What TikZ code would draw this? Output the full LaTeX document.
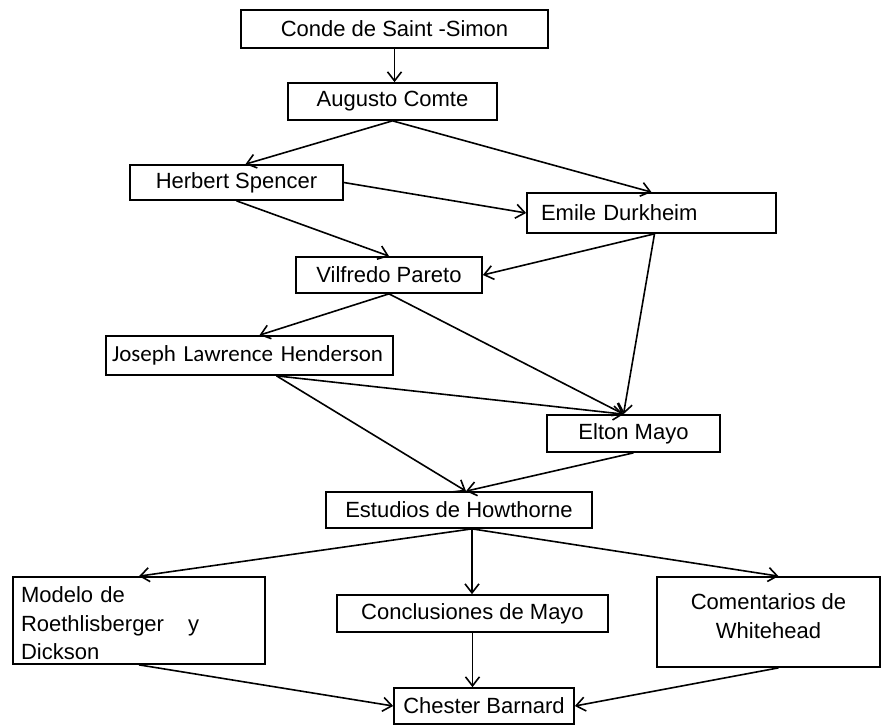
\documentclass[tikz,border=0pt]{standalone}
\usepackage{fontspec}
\setmainfont{Liberation Sans}
\newfontfamily\calib{Carlito}
\usetikzlibrary{arrows.meta}
\begin{document}
\begin{tikzpicture}[x=1pt,y=-1pt,
  box/.style={draw,line width=1.7pt,rectangle,inner sep=0pt,
    font=\fontsize{22}{28.5}\selectfont,align=center},
  link/.style={line width=1.6pt,-{Straight Barb[length=9pt,width=14pt,line width=1.6pt]}}]
\useasboundingbox (0,0) rectangle (890,725);

% boxes
\node[box,minimum width=307pt,minimum height=38pt] (sim) at (394.5,29) {Conde de Saint -Simon};
\node[box,minimum width=209pt,minimum height=37pt] (com) at (392.5,101.5) {Augusto Comte};
\node[box,minimum width=213pt,minimum height=35pt] (spe) at (236.5,182.5) {Herbert Spencer};
\node[box,minimum height=40pt,text width=221pt,inner xsep=14pt,align=left] (dur) at (651.5,213) {Emile Durkheim};
\node[box,minimum width=186pt,minimum height=36pt] (par) at (389,275) {Vilfredo Pareto};
\node[box,minimum height=39pt,text width=275pt,inner xsep=6pt,align=left,
  font=\calib\fontsize{23}{28}\selectfont] (hen) at (249.5,355.5) {Joseph Lawrence Henderson};
\node[box,minimum width=173pt,minimum height=37pt] (may) at (633.5,433.5) {Elton Mayo};
\node[box,minimum width=266pt,minimum height=36pt] (how) at (459,510) {Estudios de Howthorne};
\node[box,minimum height=87pt,text width=236pt,inner xsep=8pt,align=left] (rd) at (139,620.5) {\rule{0pt}{22pt}Modelo de\\Roethlisberger\hspace{24pt}y\\Dickson};
\node[box,minimum width=271pt,minimum height=37pt] (con) at (472.5,613.5) {Conclusiones de Mayo};
\node[box,minimum width=223pt,minimum height=90pt] (whi) at (768.5,622) {Comentarios de\\Whitehead\rule[-12pt]{0pt}{0pt}};
\node[box,minimum width=180pt,minimum height=36pt] (bar) at (484,706) {Chester Barnard};

% connectors
\draw[link] (sim.south) -- (sim.south |- com.north);
\draw[link] (com.south) -- ([xshift=9pt]spe.north);
\draw[link] (com.south) -- (dur.north);
\draw[link] (spe.east) -- (dur.west);
\draw[link] (spe.south) -- (par.north);
\draw[link] ([xshift=3pt]dur.south) -- (par.east);
\draw[link] ([xshift=3pt]dur.south) -- ([xshift=-10pt]may.north);
\draw[link] (par.south) -- ([xshift=10pt]hen.north);
\draw[link] (par.south) -- ([xshift=-10pt]may.north);
\draw[link] ([xshift=27pt]hen.south) -- ([xshift=-10pt]may.north);
\draw[link] ([xshift=27pt]hen.south) -- ([xshift=7pt]how.north);
\draw[link] (may.south) -- ([xshift=7pt]how.north);
\draw[link] ([xshift=13pt]how.south) -- (rd.north);
\draw[link] ([xshift=13pt]how.south) -- ([xshift=13pt]how.south |- con.north);
\draw[link] ([xshift=13pt]how.south) -- ([xshift=10pt]whi.north);
\draw[link] (rd.south) -- (bar.west);
\draw[link] (con.south) -- (con.south |- bar.north);
\draw[link] ([xshift=10pt]whi.south) -- (bar.east);
\end{tikzpicture}
\end{document}
